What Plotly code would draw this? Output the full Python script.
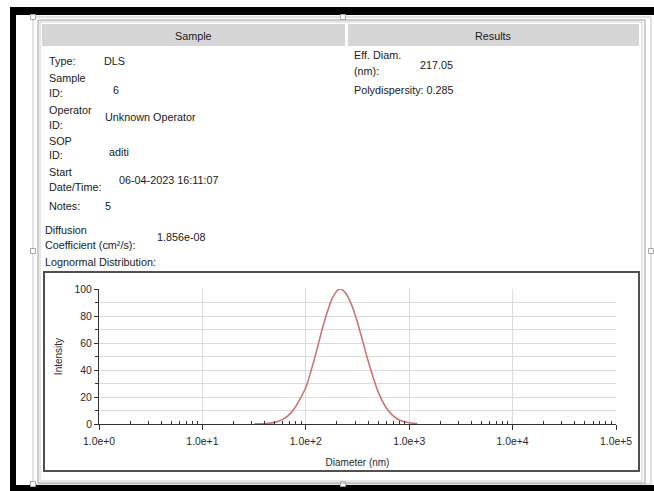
import plotly.graph_objects as go

# ---- measurement record -------------------------------------------------
sample_rows = [
    (["Type:"], "DLS"),
    (["Sample", "ID:"], "6"),
    (["Operator", "ID:"], "Unknown Operator"),
    (["SOP", "ID:"], "aditi"),
    (["Start", "Date/Time:"], "06-04-2023 16:11:07"),
    (["Notes:"], "5"),
    (["Diffusion", "Coefficient (cm²/s):"], "1.856e-08"),
]
eff_diam_nm = "217.05"
polydispersity = "0.285"

# ---- lognormal intensity distribution ----------------------------------
diameter_nm = [32, 40, 50, 60, 70, 80, 90, 100, 120, 150, 180, 200, 217,
               240, 260, 300, 350, 400, 500, 600, 700, 800, 1000, 1200]
intensity = [0.1, 0.3, 1.2, 3.4, 7.3, 13, 20, 27, 47, 75, 93, 98.5, 100,
             97.5, 93, 81, 63, 47, 24, 12, 6, 3, 0.9, 0.3]

x_tickvals = [1, 10, 100, 1000, 10000, 100000]
x_ticktext = ["1.0e+0", "1.0e+1", "1.0e+2", "1.0e+3", "1.0e+4", "1.0e+5"]

# ---- page geometry (pixels) --------------------------------------------
FIG_W, FIG_H = 654, 491
PL, PR, PT, PB = 99, 616, 289, 424          # plotting rectangle
PW, PH = PR - PL, PB - PT

FONT = "Liberation Sans, Arial, sans-serif"
TXT = "#1a1a1a"


def px(x):
    return (x - PL) / PW


def py(y):
    return (PB - y) / PH


shapes = []
annotations = []


def rect(x0, y0, x1, y1, fill=None, line=None, lw=1):
    shapes.append(dict(
        type="rect", xref="paper", yref="paper",
        x0=px(x0), x1=px(x1), y0=py(y1), y1=py(y0),
        fillcolor=fill or "rgba(0,0,0,0)",
        line=dict(color=line or "rgba(0,0,0,0)", width=lw if line else 0),
        layer="above"))


def text(x, y, s, size=10.8, anchor="left", color=TXT):
    annotations.append(dict(
        x=px(x), y=py(y), xref="paper", yref="paper", text=s,
        showarrow=False, xanchor=anchor, yanchor="middle",
        font=dict(family=FONT, size=size, color=color)))


# dark outer border of the window capture
rect(10, 7, 654, 15, fill="black")
rect(10, 7, 16, 491, fill="black")
rect(10, 485, 654, 491, fill="black")

# light selection frame with its handles
rect(33, 17, 651, 484, line="#c4c4c4")
for hx, hy in [(33, 17), (343, 17), (33, 251), (651, 251), (33, 484), (343, 484)]:
    rect(hx - 2.5, hy - 2.5, hx + 2.5, hy + 2.5, fill="white", line="#a8a8a8")

# report panel (double frame)
rect(38, 20, 645, 483, line="#9a9a9a")
rect(40, 22, 642, 481, line="#cfcfcf")

# section headers
rect(42, 24, 345, 46, fill="#d6d6d6")
rect(348, 24, 639, 46, fill="#d6d6d6")
text(193, 36, "Sample", anchor="center")
text(493, 36, "Results", anchor="center")

# sample block
label_y = [[61], [78, 93], [110, 125], [141, 155], [172, 187], [206], [230, 245]]
label_x = [47, 47, 47, 47, 47, 47, 43]
value_pos = [(102, 61), (111, 90), (103, 117), (107, 152), (117, 180), (103, 206), (155, 237)]
for (labels, value), ys, lx, (vx, vy) in zip(sample_rows, label_y, label_x, value_pos):
    for lab, ly in zip(labels, ys):
        text(lx, ly, lab)
    text(vx, vy, value)

text(43, 262, "Lognormal Distribution:")

# results block
text(352, 55, "Eff. Diam.")
text(352, 71, "(nm):")
text(418, 65, eff_diam_nm)
text(352, 90, "Polydispersity: " + polydispersity)

# frame around the chart
rect(44, 272, 639, 471, line="#505050", lw=2)

fig = go.Figure()
fig.add_trace(go.Scatter(
    x=diameter_nm, y=intensity, mode="lines",
    line=dict(color="#cd7474", width=1.6, shape="spline", smoothing=0.8),
    hoverinfo="skip", showlegend=False))

minor_x = [m * 10 ** e for e in range(5) for m in range(2, 10)]

fig.update_xaxes(
    type="log", range=[0, 5],
    tickmode="array", tickvals=x_tickvals, ticktext=x_ticktext,
    ticks="outside", ticklen=5, tickcolor="#333", tickwidth=1,
    ticklabelstandoff=3,
    showline=True, linecolor="#333", linewidth=1,
    showgrid=True, gridcolor="#dcdcdc", gridwidth=1,
    zeroline=False,
    minor=dict(tickmode="array", tickvals=minor_x, ticks="inside",
               ticklen=3, tickcolor="#333", showgrid=False),
    tickfont=dict(family=FONT, size=10.4, color="#2a2a2a"),
    title=dict(text="Diameter (nm)", standoff=12,
               font=dict(family=FONT, size=10, color="#2a2a2a")),
)
fig.update_yaxes(
    range=[0, 100], tickmode="linear", tick0=0, dtick=20,
    ticks="outside", ticklen=4, tickcolor="#333",
    showline=True, linecolor="#333", linewidth=1,
    showgrid=True, gridcolor="#dcdcdc", gridwidth=1,
    zeroline=False,
    minor=dict(dtick=10, ticks="outside", ticklen=3, tickcolor="#333",
               showgrid=True, gridcolor="#dcdcdc"),
    tickfont=dict(family=FONT, size=10.4, color="#2a2a2a"),
    title=dict(text="Intensity", standoff=10,
               font=dict(family=FONT, size=10, color="#2a2a2a")),
)

fig.update_layout(
    width=FIG_W, height=FIG_H, autosize=False,
    margin=dict(l=PL, r=FIG_W - PR, t=PT, b=FIG_H - PB, pad=0),
    paper_bgcolor="white", plot_bgcolor="white",
    shapes=shapes, annotations=annotations,
)

fig.write_html("out.html")
